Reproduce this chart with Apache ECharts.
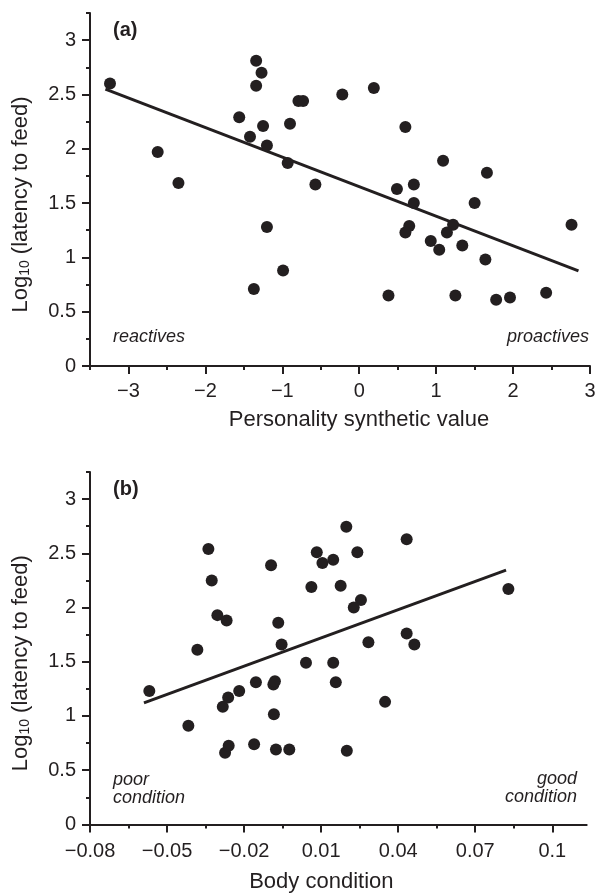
<!DOCTYPE html>
<html><head><meta charset="utf-8">
<script src="https://cdn.jsdelivr.net/npm/echarts@6/dist/echarts.min.js"></script>
<style>html,body{margin:0;padding:0;background:#fff}#c{width:598px;height:895px}</style>
</head><body><div id="c"></div>
<script>
// Panel (a): personality synthetic value vs log10 latency to feed
const personality = [-3.24,-2.62,-2.35,-1.34,-1.27,-1.34,-1.56,-1.25,-1.42,-1.20,-0.93,-0.90,-0.79,-0.73,-0.22,0.19,0.60,-0.57,1.09,1.66,0.49,0.71,0.71,1.50,0.65,0.60,1.22,1.14,0.93,1.04,1.34,1.64,2.76,0.38,1.25,1.78,1.96,2.43,-1.20,-0.99,-1.37];
const latencyA    = [2.60,1.97,1.685,2.81,2.70,2.58,2.29,2.21,2.11,2.03,1.87,2.23,2.44,2.44,2.50,2.56,2.20,1.67,1.89,1.78,1.63,1.67,1.50,1.50,1.29,1.23,1.30,1.23,1.15,1.07,1.11,0.98,1.30,0.65,0.65,0.61,0.63,0.675,1.28,0.88,0.71];
const fitAx = [-3.30, 2.85];
const fitAy = [2.55, 0.875];

// Panel (b): body condition vs log10 latency to feed
const bodyCond = [-0.0339,-0.0326,-0.0304,-0.0268,-0.0382,-0.0095,-0.0067,-0.0054,0.0198,0.0433,0.0083,0.0105,0.0147,0.0241,0.0062,0.0176,0.0255,0.0227,0.0829,0.0433,0.0463,0.0284,0.0041,0.0147,-0.0569,-0.0417,-0.0283,-0.0262,-0.0219,-0.0154,-0.0086,-0.0080,-0.0084,-0.0274,-0.0260,-0.0161,-0.0076,-0.0024,0.0157,0.0349,0.0200];
const latencyB = [2.54,2.25,1.93,1.88,1.61,2.39,1.86,1.66,2.745,2.63,2.51,2.41,2.44,2.51,2.19,2.20,2.07,2.00,2.17,1.76,1.66,1.68,1.49,1.49,1.23,0.91,1.085,1.17,1.23,1.31,1.29,1.32,1.015,0.66,0.725,0.74,0.69,0.69,1.31,1.13,0.68];
const fitBx = [-0.0590, 0.0820];
const fitBy = [1.12, 2.345];

// Tick labels
const yTicks = [0, 0.5, 1, 1.5, 2, 2.5, 3];
const yMinor = [0.25, 0.75, 1.25, 1.75, 2.25, 2.75, 3.25];
const xTicksA = [-3, -2, -1, 0, 1, 2, 3];
const xMinorA = [-3.5, -2.5, -1.5, -0.5, 0.5, 1.5, 2.5];
const xTicksB = [-0.08, -0.05, -0.02, 0.01, 0.04, 0.07, 0.1];
const xMinorB = [-0.065, -0.035, -0.005, 0.025, 0.055, 0.085];

const INK = '#231f20';
const FONT = 'Liberation Sans, Arial, Helvetica, sans-serif';
const fmt = v => (v < 0 ? '\u2212' + Math.abs(v) : String(v));

function zip(a, b) { return a.map((v, i) => [v, b[i]]); }

function mainX(grid, min, max, ticks, name, margin, gap, pad) {
  return {
    type: 'value', gridIndex: grid, position: 'bottom', min, max,
    splitLine: { show: false },
    axisLine: { show: true, onZero: false, lineStyle: { color: INK, width: 2 } },
    axisTick: { show: true, customValues: ticks, length: 8, lineStyle: { color: INK, width: 2 } },
    axisLabel: { show: true, customValues: ticks, formatter: fmt, margin, color: INK, fontSize: 20, fontFamily: FONT },
    name, nameLocation: 'middle', nameGap: gap, nameMoveOverlap: false,
    nameTextStyle: { color: INK, fontSize: 22, fontFamily: FONT, padding: pad }
  };
}
function minorX(grid, min, max, ticks) {
  return {
    type: 'value', gridIndex: grid, position: 'bottom', min, max,
    splitLine: { show: false }, axisLine: { show: false, onZero: false },
    axisTick: { show: true, customValues: ticks, length: 4, lineStyle: { color: INK, width: 2 } },
    axisLabel: { show: false }
  };
}
function mainY(grid) {
  return {
    type: 'value', gridIndex: grid, position: 'left', min: 0, max: 3.25,
    splitLine: { show: false },
    axisLine: { show: true, onZero: false, lineStyle: { color: INK, width: 2 } },
    axisTick: { show: true, customValues: yTicks, length: 8, lineStyle: { color: INK, width: 2 } },
    axisLabel: { show: true, customValues: yTicks, formatter: fmt, margin: 14, color: INK, fontSize: 20, fontFamily: FONT },
    name: 'Log{sub|10} (latency to feed)', nameLocation: 'middle', nameGap: 58, nameMoveOverlap: false,
    nameTextStyle: { color: INK, fontSize: 22, fontFamily: FONT, padding: [0, 30, 0, 0],
      rich: { sub: { fontSize: 14, fontFamily: FONT, color: INK, verticalAlign: 'bottom', lineHeight: 10 } } }
  };
}
function minorY(grid) {
  return {
    type: 'value', gridIndex: grid, position: 'left', min: 0, max: 3.25,
    splitLine: { show: false }, axisLine: { show: false, onZero: false },
    axisTick: { show: true, customValues: yMinor, length: 4, lineStyle: { color: INK, width: 2 } },
    axisLabel: { show: false }
  };
}

const chart = echarts.init(document.getElementById('c'), null, { renderer: 'canvas' });
chart.setOption({
  animation: false,
  backgroundColor: '#ffffff',
  grid: [
    { left: 90, top: 13, width: 500, height: 353, outerBoundsMode: 'none', containLabel: false },
    { left: 90, top: 472, width: 496.7, height: 352.4, outerBoundsMode: 'none', containLabel: false }
  ],
  xAxis: [
    mainX(0, -3.5, 3, xTicksA, 'Personality synthetic value', 15, 43, [0, 0, 0, 38]),
    minorX(0, -3.5, 3, xMinorA),
    mainX(1, -0.08, 0.1134, xTicksB, 'Body condition', 17, 47, [0, 34, 0, 0]),
    minorX(1, -0.08, 0.1134, xMinorB)
  ],
  yAxis: [mainY(0), minorY(0), mainY(1), minorY(1)],
  series: [
    { type: 'line', xAxisIndex: 0, yAxisIndex: 0, data: zip(fitAx, fitAy), showSymbol: false, symbol: 'none',
      lineStyle: { color: INK, width: 3 }, z: 2 },
    { type: 'scatter', xAxisIndex: 0, yAxisIndex: 0, data: zip(personality, latencyA), symbolSize: 12,
      itemStyle: { color: INK, opacity: 1 }, z: 3 },
    { type: 'line', xAxisIndex: 2, yAxisIndex: 2, data: zip(fitBx, fitBy), showSymbol: false, symbol: 'none',
      lineStyle: { color: INK, width: 3 }, z: 2 },
    { type: 'scatter', xAxisIndex: 2, yAxisIndex: 2, data: zip(bodyCond, latencyB), symbolSize: 12,
      itemStyle: { color: INK, opacity: 1 }, z: 3 }
  ],
  graphic: [
    { type: 'text', x: 113, y: 30.5, style: { text: '(a)', fill: INK, fontSize: 20, fontWeight: 'bold', fontFamily: FONT, textVerticalAlign: 'middle' } },
    { type: 'text', x: 113, y: 489, style: { text: '(b)', fill: INK, fontSize: 20, fontWeight: 'bold', fontFamily: FONT, textVerticalAlign: 'middle' } },
    { type: 'text', x: 113, y: 337, style: { text: 'reactives', fill: INK, fontSize: 18, fontStyle: 'italic', fontFamily: FONT, textVerticalAlign: 'middle' } },
    { type: 'text', x: 589, y: 337, style: { text: 'proactives', fill: INK, fontSize: 18, fontStyle: 'italic', fontFamily: FONT, textAlign: 'right', textVerticalAlign: 'middle' } },
    { type: 'text', x: 113, y: 789, style: { text: 'poor\ncondition', fill: INK, fontSize: 18, lineHeight: 17.6, fontStyle: 'italic', fontFamily: FONT, textVerticalAlign: 'middle' } },
    { type: 'text', x: 577, y: 788, style: { text: 'good\ncondition', fill: INK, fontSize: 18, lineHeight: 17.6, fontStyle: 'italic', fontFamily: FONT, textAlign: 'right', textVerticalAlign: 'middle' } }
  ]
});
</script></body></html>
